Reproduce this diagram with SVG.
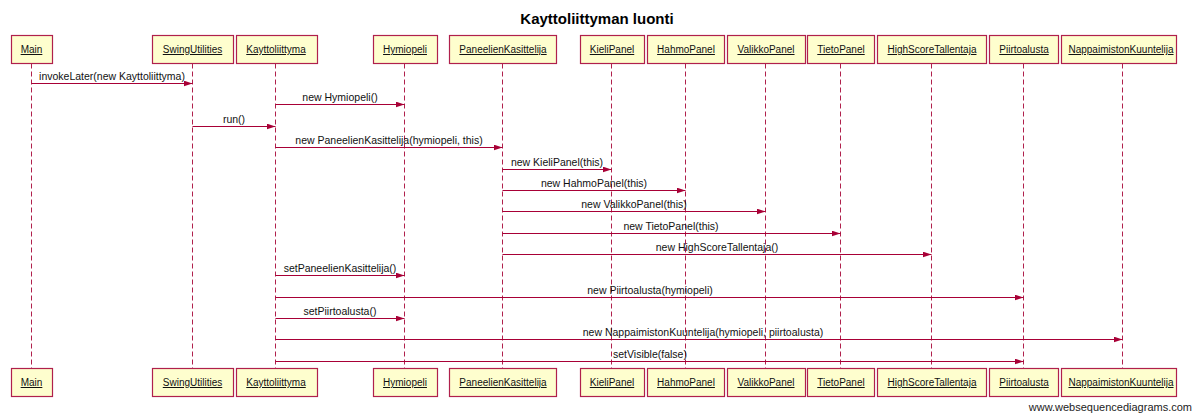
<svg xmlns="http://www.w3.org/2000/svg" width="1193" height="413" viewBox="0 0 1193 413">
<style>
.box{fill:#fefece;stroke:#b0204c;stroke-width:1.2}
.lbl{font-family:"Liberation Sans",Arial,sans-serif;font-size:10px;fill:#111;text-anchor:middle;text-decoration:underline}
.life{stroke:#b0204c;stroke-width:1;stroke-dasharray:5,3;fill:none}
.msg{stroke:#a80036;stroke-width:1;fill:none;marker-end:url(#ah)}
.mt{font-family:"Liberation Sans",Arial,sans-serif;font-size:10.5px;fill:#111;text-anchor:middle}
.title{font-family:"Liberation Sans",Arial,sans-serif;font-size:15px;font-weight:bold;fill:#000;text-anchor:middle}
.wm{font-family:"Liberation Sans",Arial,sans-serif;font-size:11px;fill:#222;text-anchor:end}
</style>
<defs>
<marker id="ah" markerUnits="userSpaceOnUse" markerWidth="10" markerHeight="7" refX="9" refY="3" orient="auto">
<path d="M0,0 L9,3 L0,6 z" fill="#a80036"/>
</marker>
</defs>
<rect width="1193" height="413" fill="#fff"/>
<text class="title" x="597" y="24">Kayttoliittyman luonti</text>

<g id="lifelines">
<line class="life" x1="31.5" y1="63.5" x2="31.5" y2="368.5"/>
<line class="life" x1="192.5" y1="63.5" x2="192.5" y2="368.5"/>
<line class="life" x1="275.5" y1="63.5" x2="275.5" y2="368.5"/>
<line class="life" x1="404.5" y1="63.5" x2="404.5" y2="368.5"/>
<line class="life" x1="502.5" y1="63.5" x2="502.5" y2="368.5"/>
<line class="life" x1="611.5" y1="63.5" x2="611.5" y2="368.5"/>
<line class="life" x1="685.5" y1="63.5" x2="685.5" y2="368.5"/>
<line class="life" x1="765.5" y1="63.5" x2="765.5" y2="368.5"/>
<line class="life" x1="840.5" y1="63.5" x2="840.5" y2="368.5"/>
<line class="life" x1="931.5" y1="63.5" x2="931.5" y2="368.5"/>
<line class="life" x1="1023.5" y1="63.5" x2="1023.5" y2="368.5"/>
<line class="life" x1="1122.5" y1="63.5" x2="1122.5" y2="368.5"/>
</g>

<g id="Main">
<rect class="box" x="11.5" y="35.5" width="41" height="28"/><text class="lbl" x="31.5" y="53">Main</text>
<rect class="box" x="11.5" y="368.5" width="41" height="28"/><text class="lbl" x="31.5" y="386">Main</text>
</g>
<g id="SwingUtilities">
<rect class="box" x="152.5" y="35.5" width="81" height="28"/><text class="lbl" x="192.5" y="53">SwingUtilities</text>
<rect class="box" x="152.5" y="368.5" width="81" height="28"/><text class="lbl" x="192.5" y="386">SwingUtilities</text>
</g>
<g id="Kayttoliittyma">
<rect class="box" x="236.5" y="35.5" width="81" height="28"/><text class="lbl" x="276" y="53">Kayttoliittyma</text>
<rect class="box" x="236.5" y="368.5" width="81" height="28"/><text class="lbl" x="276" y="386">Kayttoliittyma</text>
</g>
<g id="Hymiopeli">
<rect class="box" x="373.5" y="35.5" width="64" height="28"/><text class="lbl" x="405" y="53">Hymiopeli</text>
<rect class="box" x="373.5" y="368.5" width="64" height="28"/><text class="lbl" x="405" y="386">Hymiopeli</text>
</g>
<g id="PaneelienKasittelija">
<rect class="box" x="449.5" y="35.5" width="107" height="28"/><text class="lbl" x="503" y="53">PaneelienKasittelija</text>
<rect class="box" x="449.5" y="368.5" width="107" height="28"/><text class="lbl" x="503" y="386">PaneelienKasittelija</text>
</g>
<g id="KieliPanel">
<rect class="box" x="580.5" y="35.5" width="64" height="28"/><text class="lbl" x="612" y="53">KieliPanel</text>
<rect class="box" x="580.5" y="368.5" width="64" height="28"/><text class="lbl" x="612" y="386">KieliPanel</text>
</g>
<g id="HahmoPanel">
<rect class="box" x="647.5" y="35.5" width="77" height="28"/><text class="lbl" x="686" y="53">HahmoPanel</text>
<rect class="box" x="647.5" y="368.5" width="77" height="28"/><text class="lbl" x="686" y="386">HahmoPanel</text>
</g>
<g id="ValikkoPanel">
<rect class="box" x="727.5" y="35.5" width="78" height="28"/><text class="lbl" x="766" y="53">ValikkoPanel</text>
<rect class="box" x="727.5" y="368.5" width="78" height="28"/><text class="lbl" x="766" y="386">ValikkoPanel</text>
</g>
<g id="TietoPanel">
<rect class="box" x="807.5" y="35.5" width="67" height="28"/><text class="lbl" x="841" y="53">TietoPanel</text>
<rect class="box" x="807.5" y="368.5" width="67" height="28"/><text class="lbl" x="841" y="386">TietoPanel</text>
</g>
<g id="HighScoreTallentaja">
<rect class="box" x="877.5" y="35.5" width="109" height="28"/><text class="lbl" x="932" y="53">HighScoreTallentaja</text>
<rect class="box" x="877.5" y="368.5" width="109" height="28"/><text class="lbl" x="932" y="386">HighScoreTallentaja</text>
</g>
<g id="Piirtoalusta">
<rect class="box" x="989.5" y="35.5" width="69" height="28"/><text class="lbl" x="1024" y="53">Piirtoalusta</text>
<rect class="box" x="989.5" y="368.5" width="69" height="28"/><text class="lbl" x="1024" y="386">Piirtoalusta</text>
</g>
<g id="NappaimistonKuuntelija">
<rect class="box" x="1061.5" y="35.5" width="115" height="28"/><text class="lbl" x="1121" y="53">NappaimistonKuuntelija</text>
<rect class="box" x="1061.5" y="368.5" width="115" height="28"/><text class="lbl" x="1121" y="386">NappaimistonKuuntelija</text>
</g>

<g id="connectors">
<line class="msg" x1="31.5" y1="83.5" x2="192.5" y2="83.5"/><text class="mt" x="112" y="80">invokeLater(new Kayttoliittyma)</text>
<line class="msg" x1="275.5" y1="104.5" x2="404.5" y2="104.5"/><text class="mt" x="340" y="101">new Hymiopeli()</text>
<line class="msg" x1="192.5" y1="126.5" x2="275.5" y2="126.5"/><text class="mt" x="234" y="123">run()</text>
<line class="msg" x1="275.5" y1="147.5" x2="502.5" y2="147.5"/><text class="mt" x="389" y="144">new PaneelienKasittelija(hymiopeli, this)</text>
<line class="msg" x1="502.5" y1="169.5" x2="611.5" y2="169.5"/><text class="mt" x="557" y="166">new KieliPanel(this)</text>
<line class="msg" x1="502.5" y1="190.5" x2="685.5" y2="190.5"/><text class="mt" x="594" y="187">new HahmoPanel(this)</text>
<line class="msg" x1="502.5" y1="211.5" x2="765.5" y2="211.5"/><text class="mt" x="634" y="208">new ValikkoPanel(this)</text>
<line class="msg" x1="502.5" y1="233.5" x2="840.5" y2="233.5"/><text class="mt" x="671" y="230">new TietoPanel(this)</text>
<line class="msg" x1="502.5" y1="254.5" x2="931.5" y2="254.5"/><text class="mt" x="717" y="251">new HighScoreTallentaja()</text>
<line class="msg" x1="275.5" y1="275.5" x2="404.5" y2="275.5"/><text class="mt" x="340" y="272">setPaneelienKasittelija()</text>
<line class="msg" x1="275.5" y1="297.5" x2="1023.5" y2="297.5"/><text class="mt" x="650" y="294">new Piirtoalusta(hymiopeli)</text>
<line class="msg" x1="275.5" y1="318.5" x2="404.5" y2="318.5"/><text class="mt" x="340" y="315">setPiirtoalusta()</text>
<line class="msg" x1="275.5" y1="339.5" x2="1122.5" y2="339.5"/><text class="mt" x="703" y="336">new NappaimistonKuuntelija(hymiopeli, piirtoalusta)</text>
<line class="msg" x1="275.5" y1="361.5" x2="1023.5" y2="361.5"/><text class="mt" x="650" y="358">setVisible(false)</text>
</g>

<text class="wm" x="1192" y="411">www.websequencediagrams.com</text>
</svg>
